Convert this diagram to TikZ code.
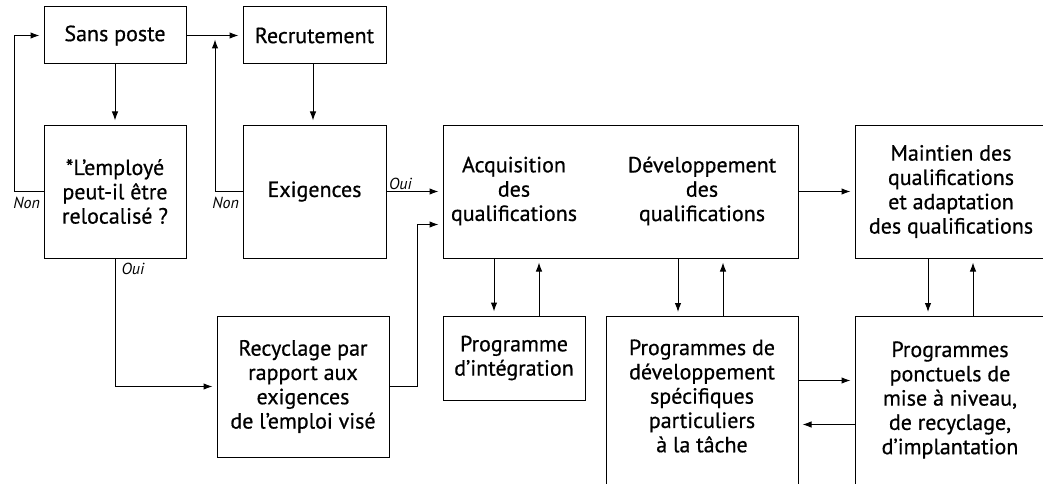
\documentclass[tikz,border=0pt]{standalone}
\usepackage{fontspec}
\setmainfont{PT Sans}
\newfontfamily\boxfont{PT Sans}[FakeBold=0.6]
\usetikzlibrary{arrows.meta,
	calc,
	positioning}

\tikzset{
	box/.style={draw, line width=1pt, inner sep=0pt, align=center, font=\boxfont\fontsize{22}{24.3}\selectfont},
	txt/.style={inner sep=0pt, align=center, font=\boxfont\fontsize{22}{24.3}\selectfont},
	lbl/.style={inner sep=0pt, font=\fontsize{16}{18}\selectfont\itshape},
	link/.style={->, line width=1pt, shorten >=4pt}
}

\begin{document}
\begin{tikzpicture}[x=1pt, y=-1pt, >={Latex[length=9pt,width=6.5pt]}]
	\useasboundingbox (0, 0) rectangle (1043, 484);

	\node[box, minimum width=142pt, minimum height=57pt] (sansposte) at (115, 35.5) {Sans poste};
	\node[box, minimum width=143pt, minimum height=57pt] (recrutement) at (314.5, 35.5) {Recrutement};
	\node[box, minimum width=142pt, minimum height=133pt] (relocalise) at (115, 191.5) {*L’employé\\peut-il être\\relocalisé ?};
	\node[box, minimum width=143pt, minimum height=133pt] (exigences) at (314.5, 191.5) {Exigences};

	\node[box, minimum width=355pt, minimum height=133pt] (quals) at (620.5, 191.5) {};
	\node[txt] (acquisition) at (514, 191) {Acquisition\\des\\qualifications};
	\node[txt] (developpement) at (702, 191) {Développement\\des\\qualifications};
	\node[box, minimum width=192pt, minimum height=133pt] (maintien) at (951, 191.5) {Maintien des\\qualifications\\et adaptation\\des qualifications};

	\node[box, minimum width=172pt, minimum height=141pt] (recyclage) at (303, 386.5) {Recyclage par\\rapport aux\\exigences\\de l’emploi visé};
	\node[box, minimum width=142pt, minimum height=84pt] (integration) at (514, 358) {Programme\\d’intégration};
	\node[box, anchor=north, minimum width=192pt, minimum height=200pt] (specifiques) at (702, 316) {};
	\node[txt] at (702, 396) {Programmes de\\développement\\spécifiques\\particuliers\\à la tâche};
	\node[box, anchor=north, minimum width=192pt, minimum height=200pt] (ponctuels) at (951, 316) {};
	\node[txt] at (950, 400) {Programmes\\ponctuels de\\mise à niveau,\\de recyclage,\\d’implantation};

	\coordinate (junction) at (215, 35.5);

	\draw[link] (sansposte) -- (recrutement);
	\draw[link] (sansposte) -- (relocalise);
	\draw[link] (recrutement.south -| 313, 0) -- (exigences.north -| 313, 0);
	\draw[link] (relocalise.west) node[lbl, anchor=north east, xshift=-3pt, yshift=-5pt] {Non} -- ++(-29, 0) |- (sansposte.west);
	\draw[link] (exigences.west) node[lbl, anchor=north east, xshift=-3pt, yshift=-5pt] {Non} -| (junction);
	\draw[link] (exigences.east) node[lbl, anchor=south west, xshift=2pt, yshift=1.5pt] {Oui} -- (exigences.east -| quals.west);
	\draw[link] (relocalise.south) node[lbl, anchor=north west, xshift=6pt, yshift=-4pt] {Oui} |- (recyclage.west);
	\draw[link] (recyclage.east) -- ++(28, 0) |- ([yshift=-33pt]quals.west);
	\draw[link] (quals) -- (maintien);

	\draw[link] ([xshift=-20pt]integration.north |- quals.south) -- ([xshift=-20pt]integration.north);
	\draw[link] ([xshift=25pt]integration.north) -- ([xshift=25pt]integration.north |- quals.south);
	\draw[link] ([xshift=-24pt]specifiques.north |- quals.south) -- ([xshift=-24pt]specifiques.north);
	\draw[link] ([xshift=21pt]specifiques.north) -- ([xshift=21pt]specifiques.north |- quals.south);
	\draw[link] ([xshift=-23pt]ponctuels.north |- maintien.south) -- ([xshift=-23pt]ponctuels.north);
	\draw[link] ([xshift=22pt]ponctuels.north) -- ([xshift=22pt]ponctuels.north |- maintien.south);

	\draw[link] ([yshift=36pt]specifiques.east) -- ([yshift=36pt]specifiques.east -| ponctuels.west);
	\draw[link] ([yshift=-8pt]ponctuels.west) -- ([yshift=-8pt]ponctuels.west -| specifiques.east);
\end{tikzpicture}
\end{document}
